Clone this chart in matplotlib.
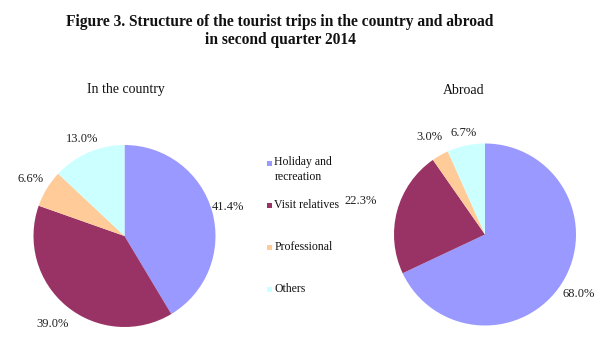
import numpy as np
import matplotlib
matplotlib.use("Agg")
import matplotlib.pyplot as plt

plt.rcParams["font.family"] = ["Liberation Serif", "DejaVu Serif"]

# data
categories = ["Holiday and\nrecreation", "Visit relatives", "Professional", "Others"]
in_country = [41.4, 39.0, 6.6, 13.0]
abroad = [68.0, 22.3, 3.0, 6.7]
colors = ["#9999FF", "#993366", "#FFCC99", "#CCFFFF"]

W, H = 600, 354
R = 91.0          # pie radius in pixels
LIM = 1.3


def px_axes(fig, cx, cy):
    # axes so that radius 1 == R pixels, centred at (cx, cy) from image top-left
    half = R * LIM
    return fig.add_axes([(cx - half) / W, (H - cy - half) / H, 2 * half / W, 2 * half / H])


def draw_pie(ax, values, dists):
    wedges, _ = ax.pie(values, colors=colors, startangle=90, counterclock=False,
                       radius=1.0, wedgeprops=dict(linewidth=0))
    for w, v, d in zip(wedges, values, dists):
        ang = np.deg2rad((w.theta1 + w.theta2) / 2)
        ax.text(d * np.cos(ang), d * np.sin(ang), f"{v:.1f}%",
                ha="center", va="center", fontsize=9, color="#222222")
    ax.set_xlim(-LIM, LIM)
    ax.set_ylim(-LIM, LIM)
    ax.set_aspect("equal")
    ax.axis("off")
    return wedges


fig = plt.figure(figsize=(W / 100, H / 100), dpi=100, facecolor="white")

ax1 = px_axes(fig, 124.5, 236)
draw_pie(ax1, in_country, [1.18, 1.25, 1.21, 1.16])
ax2 = px_axes(fig, 485, 234.5)
draw_pie(ax2, abroad, [1.22, 1.42, 1.23, 1.14])

fig.text(280 / W, 1 - 31 / H,
         "Figure 3. Structure of the tourist trips in the country and abroad\n"
         "in second quarter 2014",
         ha="center", va="center", fontsize=11.2, fontweight="bold",
         linespacing=1.1, color="#111111")
fig.text(126 / W, 1 - 90 / H, "In the country", ha="center", va="center",
         fontsize=10, color="#111111")
fig.text(464 / W, 1 - 90 / H, "Abroad", ha="center", va="center",
         fontsize=10, color="#111111")

# legend, evenly pitched entries like the original
lx, ly0, pitch = 269.5, 163, 42
for i, (lab, col) in enumerate(zip(categories, colors)):
    y = ly0 + i * pitch
    fig.patches.append(plt.Rectangle(((lx - 2.5) / W, (H - y - 2.5) / H), 5 / W, 5 / H,
                                     transform=fig.transFigure, facecolor=col,
                                     edgecolor="none"))
    fig.text((lx + 5) / W, 1 - (y - 6.5) / H, lab, ha="left", va="top",
             fontsize=8.5, linespacing=1.25, color="#111111")

fig.savefig("out.png", dpi=100, facecolor="white")
